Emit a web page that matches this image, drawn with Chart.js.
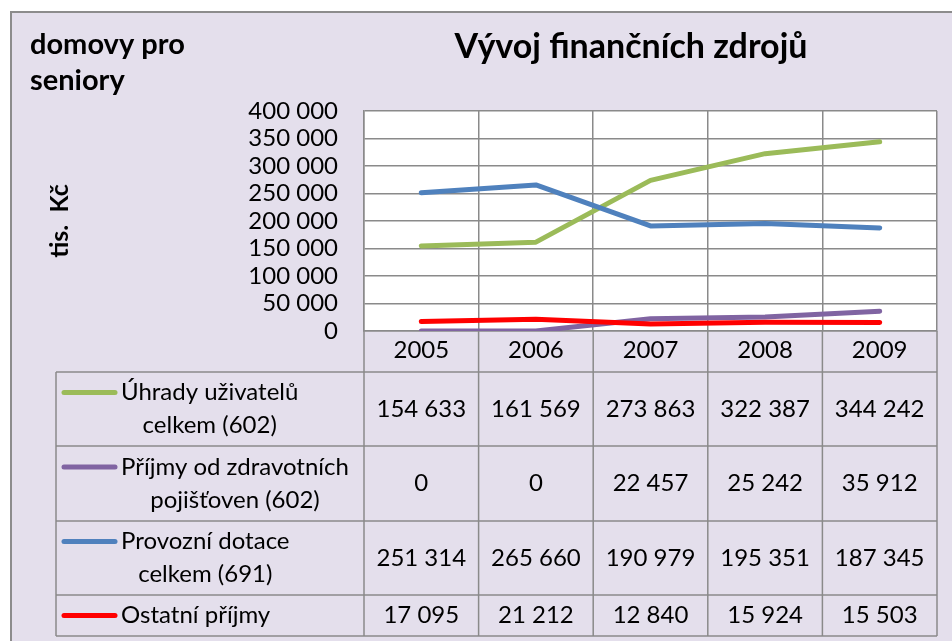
<!DOCTYPE html>
<html lang="cs">
<head>
<meta charset="utf-8">
<title>Vývoj finančních zdrojů</title>
<script src="https://cdn.jsdelivr.net/npm/chart.js@4.4.1/dist/chart.umd.min.js"></script>
<style>
  html, body { margin: 0; padding: 0; background: #fff; overflow: hidden; }
  #wrap { width: 952px; height: 641px; position: relative; }
</style>
</head>
<body>
<div id="wrap"><canvas id="chart"></canvas></div>
<script>
const years = ['2005', '2006', '2007', '2008', '2009'];
const uhrady = [154633, 161569, 273863, 322387, 344242];
const prijmyZp = [0, 0, 22457, 25242, 35912];
const dotace = [251314, 265660, 190979, 195351, 187345];
const ostatni = [17095, 21212, 12840, 15924, 15503];
const seriesNames = [
    'Úhrady uživatelů\ncelkem (602)',
    'Příjmy od zdravotních\npojišťoven (602)',
    'Provozní dotace\ncelkem (691)',
    'Ostatní příjmy'
];
const seriesColors = ['#9bbb59', '#8064a2', '#4f81bd', '#ff0000'];

const FONT = 'Lato, "Open Sans", sans-serif';
const BG = '#e4dfec';
const GRID = '#8a8a8a';

function fmt(n) {
    return String(n).replace(/\B(?=(\d{3})+(?!\d))/g, ' ');
}

// row edges of the data table under the plot (year row ends at 372)
const tableRows = [372, 446, 521, 595, 636];
const tableLeft = 56;

const dataTable = {
    id: 'dataTable',
    beforeDraw(chart) {
        const c = chart.ctx, a = chart.chartArea;
        c.save();
        c.fillStyle = BG;
        c.fillRect(10, 11, chart.width - 10, chart.height - 11);
        c.strokeStyle = '#8c8c8c';
        c.lineWidth = 2;
        c.beginPath();
        c.moveTo(11, chart.height);
        c.lineTo(11, 12);
        c.lineTo(chart.width, 12);
        c.stroke();
        c.fillStyle = '#fff';
        c.fillRect(a.left, a.top, a.right - a.left, a.bottom - a.top);

        c.fillStyle = '#000';
        c.textBaseline = 'alphabetic';
        c.font = 'bold 34px ' + FONT;
        c.textAlign = 'center';
        c.fillText('Vývoj finančních zdrojů', 631, 58);
        c.font = 'bold 29px ' + FONT;
        c.textAlign = 'left';
        c.fillText('domovy pro', 30, 54);
        c.fillText('seniory', 30, 90);
        c.restore();
    },
    afterDraw(chart) {
        const c = chart.ctx, a = chart.chartArea;
        const xs = chart.scales.x;
        const n = years.length;
        const colW = (a.right - a.left) / n;
        const bottom = tableRows[tableRows.length - 1];
        c.save();
        c.strokeStyle = GRID;
        c.lineWidth = 1.5;
        c.beginPath();
        for (let i = 0; i <= n; i++) {
            const x = a.left + i * colW;
            c.moveTo(x, a.bottom);
            c.lineTo(x, bottom);
        }
        tableRows.forEach(y => {
            c.moveTo(tableLeft, y);
            c.lineTo(a.right, y);
        });
        c.moveTo(tableLeft, tableRows[0]);
        c.lineTo(tableLeft, bottom);
        c.stroke();

        c.fillStyle = '#000';
        c.textBaseline = 'middle';
        chart.data.datasets.forEach((ds, r) => {
            const top = tableRows[r], bot = tableRows[r + 1];
            const mid = (top + bot) / 2;
            c.font = '24px ' + FONT;
            c.textAlign = 'center';
            ds.data.forEach((v, i) => {
                c.fillText(fmt(v), xs.getPixelForValue(i), mid);
            });
            const lines = ds.label.split('\n');
            const textX = 121;
            let firstY = mid;
            if (lines.length === 1) {
                c.textAlign = 'left';
                c.fillText(lines[0], textX, mid);
            } else {
                const w = Math.max(...lines.map(l => c.measureText(l).width));
                const cx = textX + w / 2;
                firstY = mid - 16.5;
                lines.forEach((l, k) => {
                    c.fillText(l, cx, firstY + k * 33);
                });
            }
            c.strokeStyle = ds.borderColor;
            c.lineWidth = 5;
            c.lineCap = 'round';
            c.beginPath();
            c.moveTo(64, firstY);
            c.lineTo(115, firstY);
            c.stroke();
        });
        c.restore();
    }
};

const seriesData = [uhrady, prijmyZp, dotace, ostatni];

new Chart(document.getElementById('chart'), {
    type: 'line',
    data: {
        labels: years,
        datasets: seriesData.map((d, i) => ({
            label: seriesNames[i],
            data: d,
            borderColor: seriesColors[i],
            backgroundColor: seriesColors[i],
            borderWidth: 5,
            pointRadius: 0,
            tension: 0,
            borderCapStyle: 'round',
            borderJoinStyle: 'round',
            order: 4 - i
        }))
    },
    options: {
        responsive: true,
        maintainAspectRatio: false,
        animation: false,
        layout: { padding: { left: 0, top: 111, right: 15, bottom: 0 } },
        plugins: {
            legend: { display: false },
            tooltip: { enabled: false },
            title: { display: false }
        },
        scales: {
            x: {
                offset: true,
                grid: { offset: true, color: GRID, lineWidth: 1.5, drawTicks: false },
                border: { color: GRID, width: 1.5 },
                ticks: { color: '#000', font: { family: FONT, size: 24 }, padding: 5, maxRotation: 0 },
                afterFit(scale) { scale.height = 310; }
            },
            y: {
                min: 0,
                max: 400000,
                grid: { color: GRID, lineWidth: 1.5, drawTicks: false },
                border: { color: GRID, width: 1.5 },
                ticks: {
                    stepSize: 50000,
                    autoSkip: false,
                    color: '#000',
                    font: { family: FONT, size: 24, lineHeight: 1 },
                    padding: 26,
                    callback: v => fmt(v)
                },
                title: {
                    display: true,
                    text: 'tis.  Kč',
                    color: '#000',
                    font: { family: FONT, size: 25, weight: 'bold' },
                    padding: { top: 45, bottom: 0 }
                },
                afterFit(scale) { scale.width = 364; }
            }
        }
    },
    plugins: [dataTable]
});
</script>
</body>
</html>
